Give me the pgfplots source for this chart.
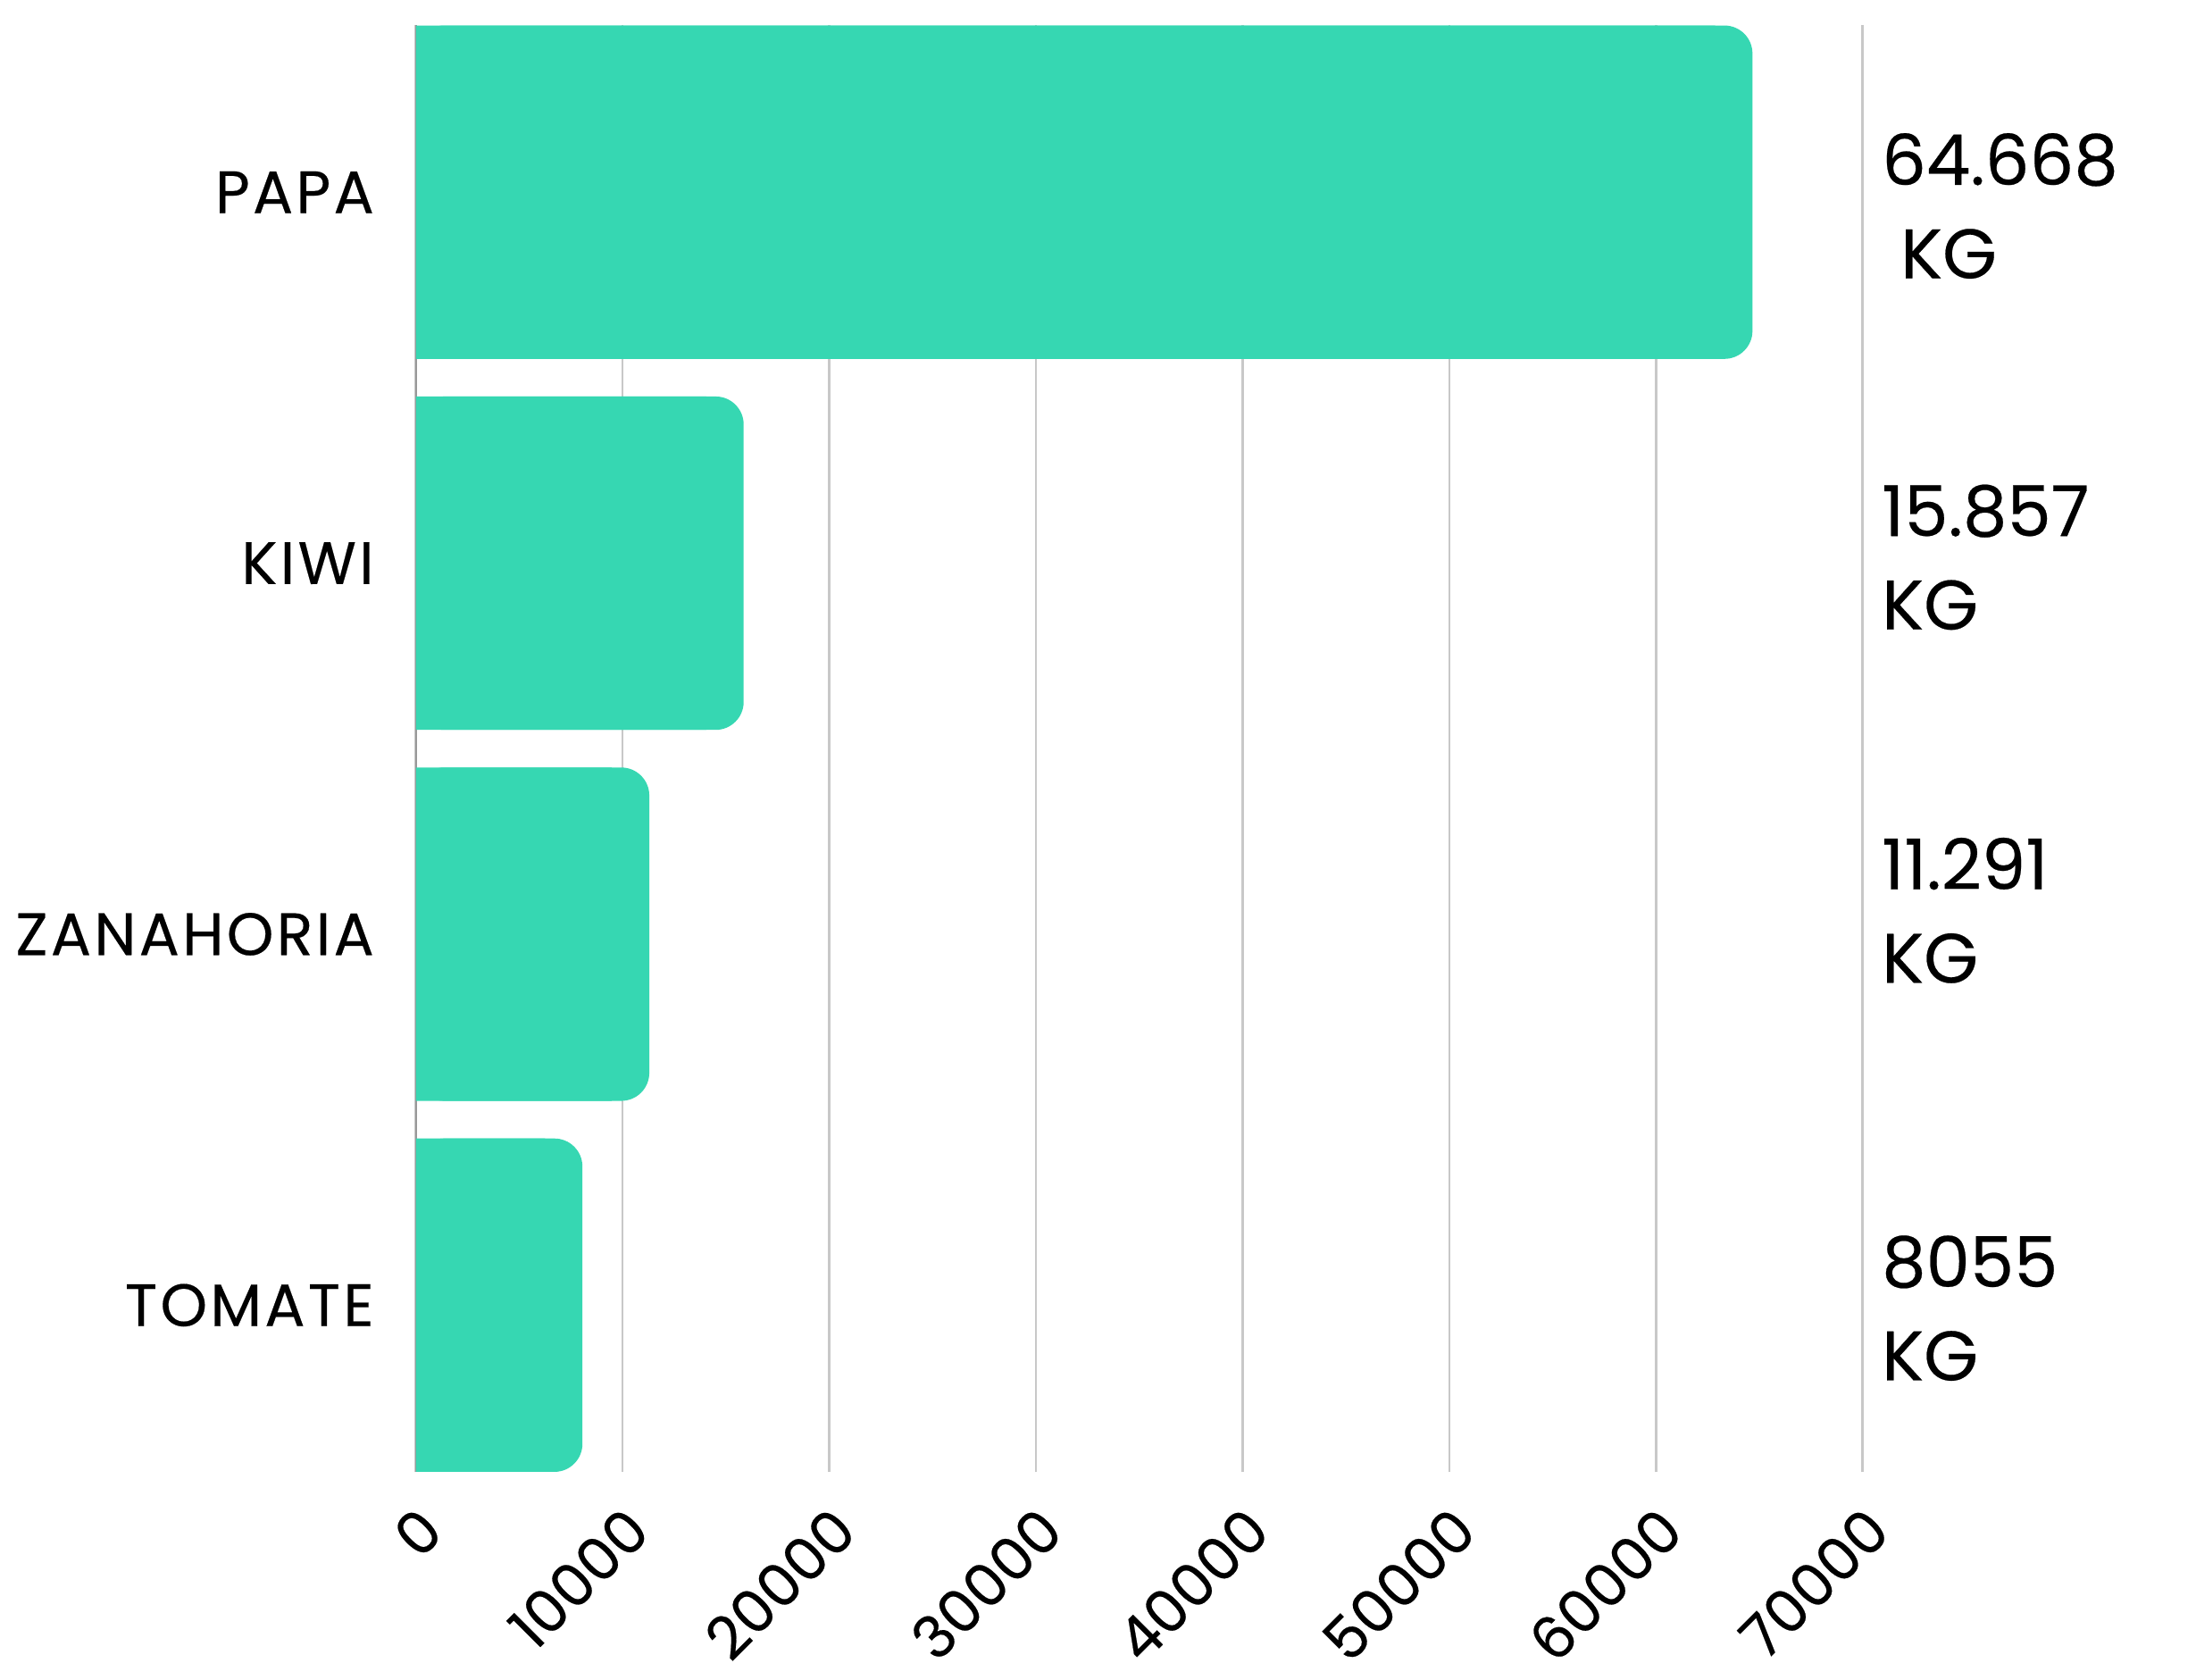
\documentclass[border=0pt]{standalone}
\usepackage{pgfplots}
\pgfplotsset{compat=1.18}
\usepackage{fontspec}
\setmainfont{Poppins}[FakeBold=0.3]
\newfontfamily\catfont{Poppins}[LetterSpace=5,FakeBold=0.3]
\definecolor{barc}{HTML}{36D7B2}
\definecolor{gridc}{HTML}{C8C8C8}
\pgfplotstableread{
pos v
3 64668
2 15857
1 11291
0 8055
}\datatab
\begin{document}
\begin{tikzpicture}
\path[use as bounding box] (-89.1pt,-44.4pt) rectangle (381.3pt,315.3pt);
\begin{axis}[
  at={(0,0)}, anchor=south west,
  width=309.9pt, height=309.9pt, scale only axis,
  xmin=0, xmax=70000, ymin=-0.45, ymax=3.45,
  xtick={0,10000,...,70000},
  ytick={0,1,2,3},
  yticklabels={TOMATE,ZANAHORIA,KIWI,PAPA},
  xmajorgrids, major grid style={gridc, line width=0.5pt},
  axis x line*=bottom, axis y line*=left,
  x axis line style={draw=none},
  y axis line style={draw=gray!80, line width=0.4pt},
  major tick length=0pt,
  /pgf/number format/assume math mode=true,
  /pgf/number format/1000 sep={},
  scaled x ticks=false,
  xticklabel style={font=\fontsize{12.6}{15}\selectfont, xshift=3.3pt, yshift=-10pt, rotate=45, anchor=east, inner sep=0pt},
  yticklabel style={font=\catfont\fontsize{12.8}{14}\selectfont, anchor=east, inner sep=0pt, xshift=-8.8pt},
  bar width=71.4pt,
]
\addplot[xbar, bar shift=0pt, fill=barc, draw=none, rounded corners=6pt] table[x=v, y=pos] {\datatab};
\addplot[xbar, bar shift=0pt, fill=barc, draw=none, xshift=-8pt] table[x=v, y=pos] {\datatab};
\addplot[draw=none, mark=none, nodes near coords, point meta=explicit symbolic,
  nodes near coords style={anchor=west, align=left, inner sep=0pt, xshift=3.9pt, text=black,
    font=\fontsize{15}{20}\selectfont}]
  coordinates {
  (70000,2.963) [64.668\\\ KG]
  (70000,2.016) [15.857\\KG]
  (70000,1.064) [11.291\\KG]
  (70000,-0.008) [8055\\KG]
  };
\end{axis}
\end{tikzpicture}
\end{document}
